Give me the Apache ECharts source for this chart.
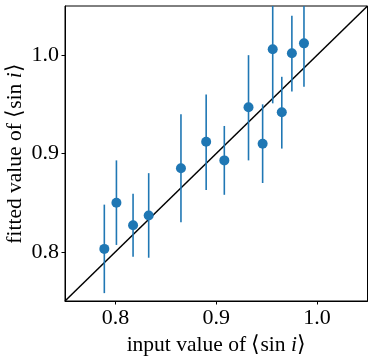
<!DOCTYPE html>
<html>
<head>
<meta charset="utf-8">
<script src="https://cdn.jsdelivr.net/npm/echarts@6/dist/echarts.min.js"></script>
<style>html,body{margin:0;padding:0;background:#fff}#c{width:374px;height:359px}</style>
</head>
<body>
<div id="c"></div>
<script>
var inputX = [0.789, 0.801, 0.8175, 0.833, 0.865, 0.890, 0.908, 0.932, 0.946, 0.956, 0.965, 0.975, 0.987];
var fittedY = [0.803, 0.850, 0.827, 0.837, 0.885, 0.912, 0.893, 0.947, 0.910, 1.006, 0.942, 1.002, 1.012];
var errLow = [0.758, 0.807, 0.795, 0.794, 0.830, 0.863, 0.858, 0.893, 0.870, 0.951, 0.905, 0.963, 0.968];
var errHigh = [0.848, 0.893, 0.859, 0.880, 0.940, 0.960, 0.928, 1.000, 0.950, 1.061, 0.978, 1.040, 1.056];
var tickValues = [0.8, 0.9, 1.0];
var diagonal = [[0.75, 0.75], [1.05, 1.05]];

var font = 'Liberation Serif';
var blue = '#1f77b4';

var errData = inputX.map(function (x, i) { return [x, errLow[i], errHigh[i]]; });
var ptData = inputX.map(function (x, i) { return [x, fittedY[i]]; });

var chart = echarts.init(document.getElementById('c'), null, {renderer: 'canvas'});
chart.setOption({
  animation: false,
  grid: {left: 65, right: 6.5, top: 6, bottom: 58, show: true, borderColor: '#000', borderWidth: 1,
    containLabel: false, outerBoundsMode: 'none'},
  xAxis: {
    type: 'value', min: 0.75, max: 1.05,
    interval: 0.05,
    axisLine: {show: true, onZero: false, lineStyle: {color: '#000', width: 1}},
    axisTick: {show: true, length: 3.5, lineStyle: {color: '#000'},
      customValues: tickValues},
    axisLabel: {color: '#000', fontFamily: font, fontSize: 22, margin: 6,
      customValues: tickValues,
      formatter: function (v) { return v.toFixed(1); }},
    splitLine: {show: false},
    name: 'input value of ⟨sin {it|i}⟩',
    nameLocation: 'middle', nameGap: 29,
    nameTextStyle: {color: '#000', fontFamily: font, fontSize: 21.5,
      rich: {it: {fontStyle: 'italic', fontFamily: font, fontSize: 21.5, color: '#000'}}}
  },
  yAxis: {
    type: 'value', min: 0.75, max: 1.05,
    interval: 0.05,
    axisLine: {show: true, onZero: false, lineStyle: {color: '#000', width: 1}},
    axisTick: {show: true, length: 3.5, lineStyle: {color: '#000'},
      customValues: tickValues},
    axisLabel: {color: '#000', fontFamily: font, fontSize: 22, margin: 6,
      customValues: tickValues,
      formatter: function (v) { return v.toFixed(1); }},
    splitLine: {show: false},
    name: 'fitted value of ⟨sin {it|i}⟩',
    nameLocation: 'middle', nameGap: 39, nameMoveOverlap: false,
    nameTextStyle: {color: '#000', fontFamily: font, fontSize: 21.5,
      rich: {it: {fontStyle: 'italic', fontFamily: font, fontSize: 21.5, color: '#000'}}}
  },
  series: [
    {
      type: 'line', data: diagonal, symbol: 'none',
      lineStyle: {color: '#000', width: 1.5}, z: 2, silent: true
    },
    {
      type: 'custom', clip: true, z: 3,
      data: errData,
      renderItem: function (params, api) {
        var x = api.value(0);
        var p1 = api.coord([x, api.value(1)]);
        var p2 = api.coord([x, api.value(2)]);
        return {
          type: 'line',
          shape: {x1: p1[0], y1: p1[1], x2: p2[0], y2: p2[1]},
          style: {stroke: blue, lineWidth: 1.6}
        };
      }
    },
    {
      type: 'scatter', data: ptData, symbol: 'circle', symbolSize: 10,
      itemStyle: {color: blue, opacity: 1}, z: 4
    }
  ]
});
</script>
</body>
</html>
